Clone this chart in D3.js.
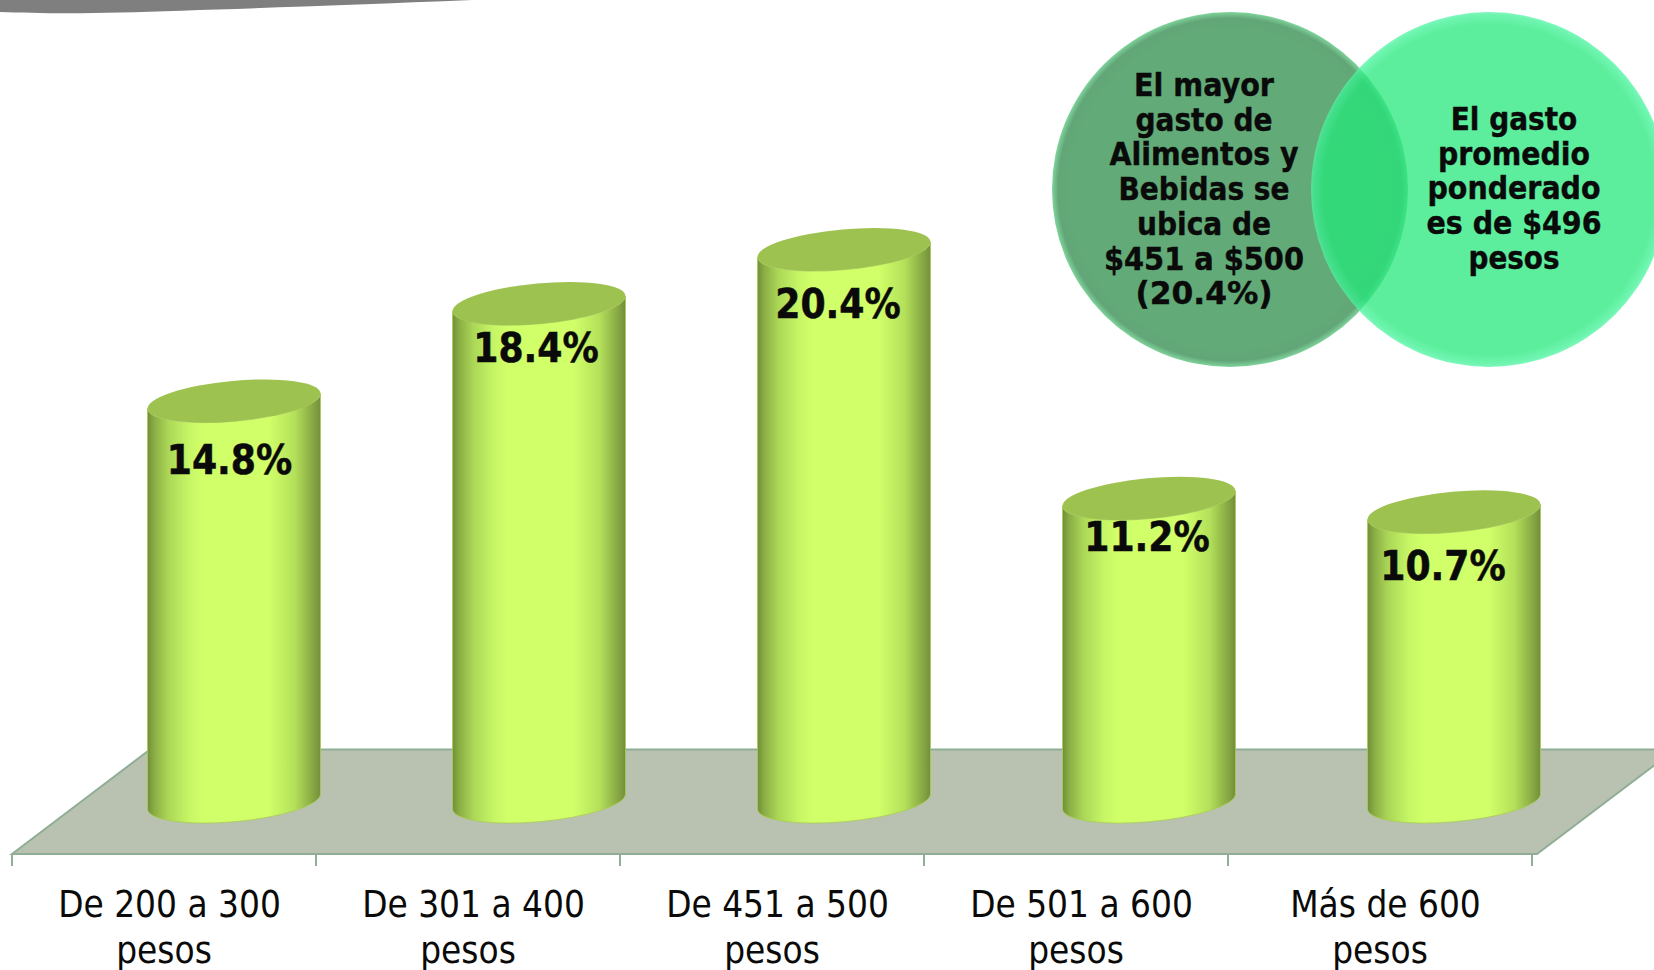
<!DOCTYPE html>
<html><head><meta charset="utf-8">
<script src="https://cdn.jsdelivr.net/npm/d3@7/dist/d3.min.js"></script>
<style>html,body{margin:0;padding:0;background:#fff;overflow:hidden}svg{display:block}
text{font-family:"DejaVu Sans",sans-serif;font-stretch:condensed;fill:#0a0a0a}</style>
</head><body><div id="chart"></div>
<script>
const categories = ["De 200 a 300","De 301 a 400","De 451 a 500","De 501 a 600","Más de 600"];
const categorySuffix = "pesos";
const values = [14.8,18.4,20.4,11.2,10.7];
const noteLeft = ["El mayor","gasto de","Alimentos y","Bebidas se","ubica de","$451 a $500","(20.4%)"];
const noteRight = ["El gasto","promedio","ponderado","es de $496","pesos"];

const W=1654,H=970;
const svg=d3.select("#chart").append("svg").attr("width",W).attr("height",H);
const defs=svg.append("defs");
const x=d3.scaleBand().domain(categories).range([12,1532]);
const xBar=d3.scaleBand().domain(categories).range([81.5,1606.5]);
const y=d3.scaleLinear().domain([0,20.4]).range([801.5,249.5]);
const halfW=86.5, rx=86.8, ry=20.2, tilt=5.23, skew=7.5;
const floorFront=854, floorBack=749.5;

const g=defs.append("linearGradient").attr("id","body");
[[0,"#6f8f38"],[.04,"#8bae45"],[.12,"#abd757"],[.24,"#c6f665"],[.32,"#d0ff69"],[.7,"#d0ff69"],[.85,"#b4e05a"],[.95,"#8aab45"],[1,"#728f3a"]]
 .forEach(([o,c])=>g.append("stop").attr("offset",o).attr("stop-color",c));
const gl=defs.append("radialGradient").attr("id","cl").attr("r",.5);
[[0,"#62aa77"],[.9,"#62aa77"],[.965,"#62a678"],[1,"#80d49c"]]
 .forEach(([o,c])=>gl.append("stop").attr("offset",o).attr("stop-color",c));
const gr=defs.append("radialGradient").attr("id","cr").attr("r",.5);
[[0,"#23e87a"],[.93,"#23e87a"],[.985,"#3cf295"],[1,"#55f5a5"]]
 .forEach(([o,c])=>gr.append("stop").attr("offset",o).attr("stop-color",c));

// header swoosh
svg.append("path").attr("fill","#7f7f7f")
 .attr("d","M0,0L472,0C330,6 200,10 120,12.5C70,14 30,13 0,12Z");

// floor
const edgeX=d3.scaleLinear().domain([floorFront,floorBack]).range([0,138]);
svg.append("path").attr("fill","#b9c2b0").attr("stroke","#8fae95").attr("stroke-width",2)
 .attr("d",`M12,${floorFront}L${12+edgeX(floorBack)},${floorBack}L${1537+edgeX(floorBack)},${floorBack}L1537,${floorFront}Z`);
// ticks
const tickAt=[...categories.map(c=>x(c)),x.range()[1]];
svg.selectAll("line.t").data(tickAt).join("line").attr("class","t")
 .attr("x1",d=>d).attr("x2",d=>d).attr("y1",floorFront).attr("y2",floorFront+12)
 .attr("stroke","#8fae95").attr("stroke-width",2);

// cylinders
const cx=c=>xBar(c)+xBar.bandwidth()/2;
const bars=svg.selectAll("g.b").data(categories.map((c,i)=>({c,v:values[i]}))).join("g").attr("class","b");
bars.append("path").attr("fill","url(#body)").attr("stroke","#a9cc55").attr("stroke-width",.8)
 .attr("d",d=>{const X=cx(d.c),t=y(d.v),b=y(0);
  return `M${X-halfW},${t+skew}L${X-halfW},${b+skew}A${rx},${ry},${-tilt},0,0,${X+halfW},${b-skew}L${X+halfW},${t-skew}A${rx},${ry},${-tilt},0,1,${X-halfW},${t+skew}Z`;});
bars.append("ellipse").attr("fill","#9dc250").attr("rx",rx).attr("ry",ry)
 .attr("transform",d=>`translate(${cx(d.c)},${y(d.v)}) rotate(${-tilt})`);

// value labels (hand placed as in the reference)
const nudgeX=[-4.5,-3,-6,-2,-11], nudgeY=[73,58,68,53,68];
bars.append("text").attr("text-anchor","middle").attr("font-weight","700").attr("font-size",40)
 .attr("stroke","#0a0a0a").attr("stroke-width",.5)
 .attr("textLength",125.5).attr("lengthAdjust","spacingAndGlyphs")
 .attr("x",(d,i)=>cx(d.c)+nudgeX[i]).attr("y",(d,i)=>y(d.v)+nudgeY[i])
 .text(d=>d.v.toFixed(1)+"%");

// category labels
const cat=svg.selectAll("g.c").data(categories).join("g").attr("class","c");
cat.append("text").attr("text-anchor","middle").attr("font-size",36.6)
 .attr("x",d=>x(d)+x.bandwidth()/2+5.5).attr("y",917).text(d=>d);
cat.append("text").attr("text-anchor","middle").attr("font-size",36.6)
 .attr("x",d=>x(d)+x.bandwidth()/2).attr("y",962.5).text(categorySuffix);

// callouts
svg.append("ellipse").attr("cx",1230).attr("cy",189.5).attr("rx",178).attr("ry",177.5).attr("fill","url(#cl)");
svg.append("ellipse").attr("cx",1489).attr("cy",189.5).attr("rx",178).attr("ry",177.5).attr("fill","url(#cr)").attr("opacity",.74);
const leftWidths=[140,137,189,171,134,200,137], rightWidths=[126.5,152,173,175,91];
svg.selectAll("text.nl").data(noteLeft).join("text").attr("class","nl").attr("text-anchor","middle")
 .attr("font-weight","700").attr("font-size",31.5).attr("stroke","#0a0a0a").attr("stroke-width",.4)
 .attr("textLength",(d,i)=>leftWidths[i]).attr("lengthAdjust","spacingAndGlyphs")
 .attr("x",1204).attr("y",(d,i)=>96+i*34.7).text(d=>d);
svg.selectAll("text.nr").data(noteRight).join("text").attr("class","nr").attr("text-anchor","middle")
 .attr("font-weight","700").attr("font-size",31.5).attr("stroke","#0a0a0a").attr("stroke-width",.4)
 .attr("textLength",(d,i)=>rightWidths[i]).attr("lengthAdjust","spacingAndGlyphs")
 .attr("x",1514).attr("y",(d,i)=>130+i*34.7).text(d=>d);
</script></body></html>
